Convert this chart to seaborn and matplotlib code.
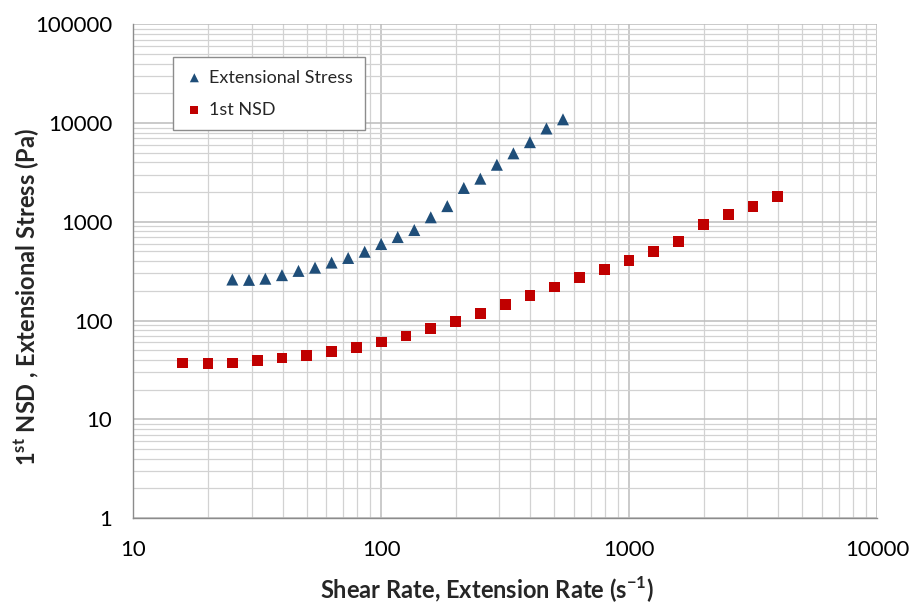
import pandas as pd
import matplotlib
matplotlib.use("Agg")
import matplotlib.pyplot as plt
from matplotlib.ticker import LogLocator, NullFormatter, FixedLocator
import seaborn as sns

# Extensional stress (blue triangles)
ext_rate = [25.1, 29.3, 34.1, 39.8, 46.4, 54.1, 63.1, 73.6, 85.8, 100, 116.6,
            136.0, 158.5, 184.8, 215.4, 251.2, 292.9, 341.5, 398.1, 464.2, 541.2]
ext_stress = [260, 258, 265, 288, 318, 343, 386, 430, 497, 595, 700,
              825, 1110, 1440, 2200, 2730, 3780, 4930, 6400, 8800, 10900]

# 1st normal stress difference (red squares)
shear_rate = [15.8, 20.0, 25.1, 31.6, 39.8, 50.1, 63.1, 79.4, 100, 125.9, 158.5,
              199.5, 251.2, 316.2, 398.1, 501.2, 631.0, 794.3, 1000, 1258.9,
              1584.9, 1995.3, 2511.9, 3162.3, 3981.1]
nsd = [37.2, 37.0, 37.2, 39.6, 41.8, 44.5, 48.9, 53.6, 60.7, 69.8, 82.8,
       97.5, 117, 146, 179, 219, 275, 331, 408, 499, 635, 930, 1194, 1416, 1800]

x_ticks = [10, 100, 1000, 10000]
y_ticks = [1, 10, 100, 1000, 10000, 100000]

df_ext = pd.DataFrame({"rate": ext_rate, "value": ext_stress})
df_nsd = pd.DataFrame({"rate": shear_rate, "value": nsd})

sns.set_theme(style="white")
plt.rcParams["font.family"] = ["Lato", "DejaVu Sans"]
plt.rcParams["mathtext.fontset"] = "custom"
plt.rcParams["mathtext.rm"] = "Lato"
plt.rcParams["mathtext.bf"] = "Lato:bold"

fig = plt.figure(figsize=(9.09, 6.04), dpi=100)
ax = fig.add_axes([0.1466, 0.1424, 0.8182, 0.8174])

sns.scatterplot(data=df_ext, x="rate", y="value", marker="^", s=75,
                color="#1F4E79", edgecolor="none", ax=ax,
                label="Extensional Stress", zorder=3)
sns.scatterplot(data=df_nsd, x="rate", y="value", marker="s", s=60,
                color="#C00000", edgecolor="none", ax=ax,
                label="1st NSD", zorder=3)

ax.set_xscale("log")
ax.set_yscale("log")
ax.set_xlim(10, 10000)
ax.set_ylim(1, 100000)

ax.xaxis.set_major_locator(FixedLocator(x_ticks))
ax.yaxis.set_major_locator(FixedLocator(y_ticks))
ax.set_xticklabels([str(t) for t in x_ticks])
ax.set_yticklabels([str(t) for t in y_ticks])
ax.xaxis.set_minor_locator(LogLocator(base=10, subs=range(2, 10), numticks=20))
ax.yaxis.set_minor_locator(LogLocator(base=10, subs=range(2, 10), numticks=20))
ax.xaxis.set_minor_formatter(NullFormatter())
ax.yaxis.set_minor_formatter(NullFormatter())

ax.grid(which="major", color="#bcbcbc", linewidth=1.1)
ax.grid(which="minor", color="#d2d2d2", linewidth=0.9)
ax.set_axisbelow(True)

for side in ["top", "right"]:
    ax.spines[side].set_visible(False)
for side in ["left", "bottom"]:
    ax.spines[side].set_color("#8c8c8c")
    ax.spines[side].set_linewidth(1.0)

ax.tick_params(which="major", direction="out", length=6, width=1,
               color="#8c8c8c", labelsize=16, labelcolor="black")
ax.tick_params(axis="x", which="major", pad=10)
ax.tick_params(axis="y", which="major", pad=9)
ax.tick_params(which="minor", length=0)

ax.set_xlabel("")
ax.set_ylabel("")
fig.text(487 / 909, 1 - 590 / 604, r"Shear Rate, Extension Rate (s$^{\mathbf{-1}}$)",
         fontsize=17, fontweight="bold", ha="center", va="center")
fig.text(27 / 909, 1 - 297 / 604, r"1$^{\mathbf{st}}$ NSD , Extensional Stress (Pa)",
         fontsize=17, fontweight="bold", ha="center", va="center", rotation=90)

leg = ax.legend(loc="upper left", bbox_to_anchor=(0.053, 0.934),
                fontsize=13, frameon=True, fancybox=False,
                borderpad=0.7, labelspacing=0.9, handletextpad=0.3,
                handlelength=1.0, markerscale=0.75, borderaxespad=0)
leg.get_frame().set_edgecolor("#8c8c8c")
leg.get_frame().set_linewidth(1.0)
leg.get_frame().set_facecolor("white")
leg.get_frame().set_alpha(1)

fig.savefig("out.png", dpi=100)
